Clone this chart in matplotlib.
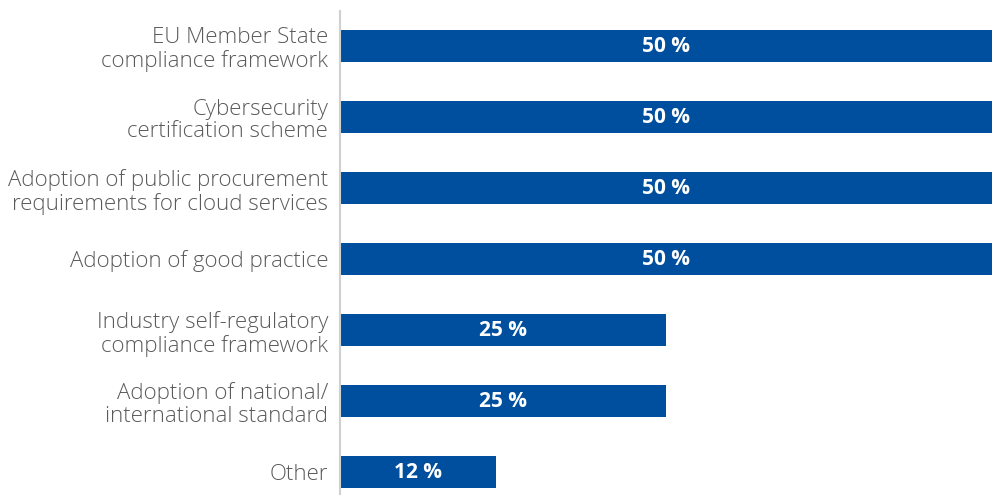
import matplotlib
matplotlib.use("Agg")
import matplotlib.pyplot as plt

categories = [
    "EU Member State\ncompliance framework",
    "Cybersecurity\ncertification scheme",
    "Adoption of public procurement\nrequirements for cloud services",
    "Adoption of good practice",
    "Industry self-regulatory\ncompliance framework",
    "Adoption of national/\ninternational standard",
    "Other",
]
values = [50, 50, 50, 50, 25, 25, 12]

bar_color = "#004f9f"
text_color = "#5a5a5a"

plt.rcParams["font.family"] = ["Open Sans", "DejaVu Sans"]

fig = plt.figure(figsize=(9.92, 4.95), dpi=100)
ax = fig.add_axes([340 / 992, -12.5 / 495, 652 / 992, 497 / 495])

ypos = list(range(len(categories)))
ax.barh(ypos, values, height=0.45, color=bar_color)
for y, v in zip(ypos, values):
    ax.text(v / 2, y, f"{v} %", ha="center", va="center", color="white",
            fontsize=15, fontweight="bold")

ax.set_xlim(0, 50)
ax.set_ylim(len(categories) - 0.5, -0.5)
ax.set_yticks(ypos)
ax.set_yticklabels(categories, fontsize=16, color=text_color,
                   fontweight="light", multialignment="right",
                   linespacing=1.12)
ax.tick_params(axis="y", length=0, pad=8.5)
ax.set_xticks([])
for side in ["top", "right", "bottom"]:
    ax.spines[side].set_visible(False)
ax.spines["left"].set_color("#d0d0d0")
ax.spines["left"].set_linewidth(1.5)

fig.savefig("out.png", dpi=100)
